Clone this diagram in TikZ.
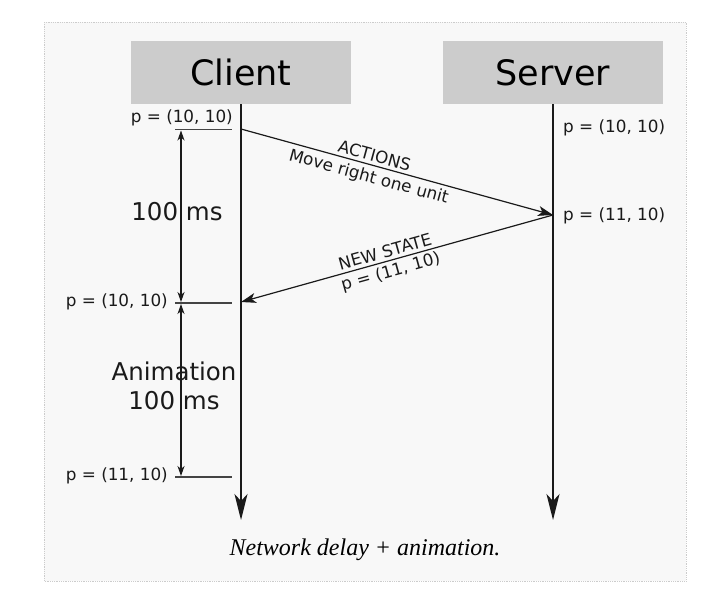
\documentclass[tikz,border=0pt]{standalone}
\usepackage{fontspec}
\setmainfont{DejaVu Sans}
\newfontfamily\capfont{Liberation Serif}
\usetikzlibrary{arrows.meta}
\definecolor{bgc}{HTML}{F8F8F8}
\definecolor{boxc}{HTML}{CCCCCC}
\definecolor{linec}{HTML}{1A1A1A}
\definecolor{tickc}{HTML}{444444}
\tikzset{
  actor/.style={fill=boxc, draw=none, minimum width=220pt, minimum height=63pt, inner sep=0pt, font=\fontsize{35}{40}\selectfont},
  lifeline/.style={draw=linec, line width=1.8pt, -{Stealth[length=26pt,width=13pt,inset=7pt]}},
  msg/.style={draw=linec, line width=1.2pt, -{Stealth[length=15pt,width=10pt,inset=4pt]}},
  dur/.style={draw=linec, line width=1.2pt, {Stealth[length=10pt,width=7pt,inset=3pt]}-{Stealth[length=10pt,width=7pt,inset=3pt]}},
  tick/.style={draw=tickc, line width=1.5pt},
  small/.style={font=\fontsize{16.8}{19}\selectfont, inner sep=0pt, text=linec},
  big/.style={font=\fontsize{24.5}{29}\selectfont, inner sep=0pt, align=center, text=linec},
}
\begin{document}
\begin{tikzpicture}[x=1pt,y=-1pt]
\useasboundingbox (0,0) rectangle (717,595);
\fill[white] (0,0) rectangle (717,595);
\draw[fill=bgc, draw=boxc, densely dotted, line width=0.8pt] (44,22) rectangle (686,581);
% actors
\node[actor] (client) at (241,72.5) {Client};
\node[actor] (server) at (553,72.5) {Server};
% lifeline ends
\coordinate (cend) at (241,520);
\coordinate (send) at (553,520);
\draw[lifeline] (client.south) -- (cend);
\draw[lifeline] (server.south) -- (send);
% event points
\coordinate (c1) at (241,129);
\coordinate (s1) at (553,215);
\coordinate (c2) at (241,302);
% messages
\draw[msg] (c1) -- (s1)
  node[pos=0.42, sloped, above=3pt, small] {ACTIONS}
  node[pos=0.42, sloped, below=4pt, small] {Move right one unit};
\draw[msg] (s1) -- (c2)
  node[pos=0.53, sloped, above=3pt, small] {NEW STATE}
  node[pos=0.53, sloped, below=3pt, small] {p = (11, 10)};
% ticks
\coordinate (t1a) at (175,129.5); \coordinate (t1b) at (232,129.5);
\coordinate (t2a) at (175,303); \coordinate (t2b) at (232,303);
\coordinate (t3a) at (175,477); \coordinate (t3b) at (232,477);
\draw[tick] (t1a) -- (t1b);
\draw[tick, line width=2pt] (t2a) -- (t2b);
\draw[tick] (t3a) -- (t3b);
\coordinate (d1) at (181,130.5);
\coordinate (d2) at (181,302);
\coordinate (d3) at (181,304);
\coordinate (d4) at (181,476);
\draw[dur] (d1) -- (d2);
\draw[dur] (d3) -- (d4);
% labels
\node[small, anchor=east] (lp1) at (233,118) {p = (10, 10)};
\node[small, anchor=east] (lp2) at (168,302) {p = (10, 10)};
\node[small, anchor=east] (lp3) at (168,476) {p = (11, 10)};
\node[small, anchor=west] (sp1) at (563,128) {p = (10, 10)};
\node[small, anchor=west] (sp2) at (563,216) {p = (11, 10)};
\node[big] (l100) at (177,212) {100 ms};
\node[big] (lanim) at (174,386) {Animation\\100 ms};
% caption
\node[font=\capfont\itshape\fontsize{24}{28}\selectfont, inner sep=0pt] (cap) at (365,550) {Network delay + animation.};
\end{tikzpicture}
\end{document}
